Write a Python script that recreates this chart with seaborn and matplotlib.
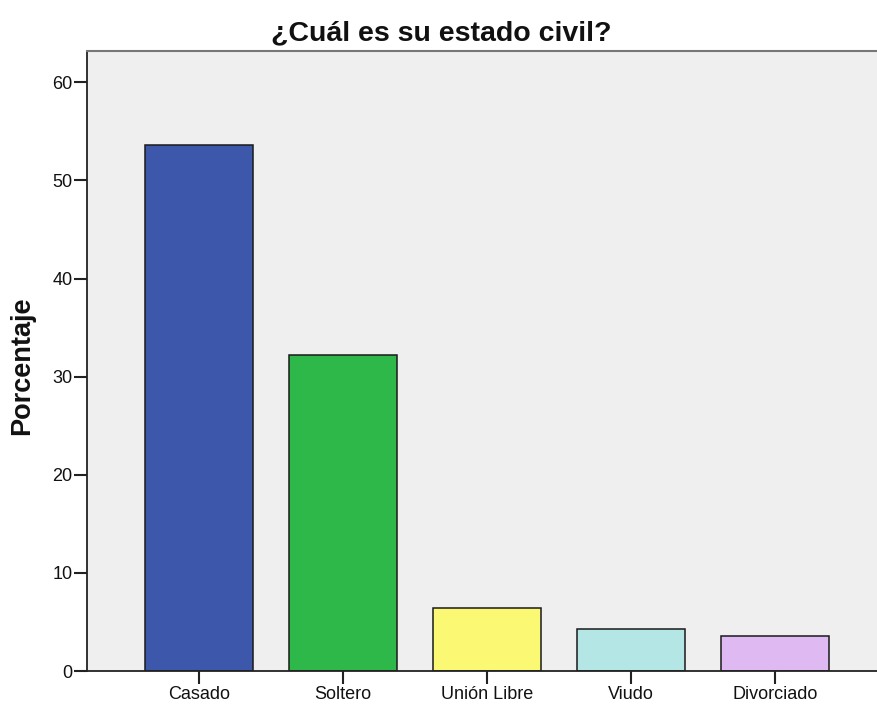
import matplotlib
matplotlib.use("Agg")
import matplotlib.pyplot as plt
import seaborn as sns
import pandas as pd

categories = ["Casado", "Soltero", "Unión Libre", "Viudo", "Divorciado"]
percentages = [53.6, 32.2, 6.4, 4.3, 3.6]
bar_colors = ["#3d57ab", "#2fb84a", "#fbf873", "#b4e6e6", "#dfbaf2"]
y_ticks = [0, 10, 20, 30, 40, 50, 60]

sns.set_theme(style="white")
plt.rcParams["font.family"] = ["Liberation Sans", "DejaVu Sans"]

df = pd.DataFrame({"estado": categories, "pct": percentages})

fig = plt.figure(figsize=(8.77, 7.04), dpi=100)
ax = fig.add_axes([87 / 877, 1 - 671 / 704, 1 - 87 / 877, (671 - 51) / 704])
ax.set_facecolor("#efefef")

sns.barplot(data=df, x="estado", y="pct", hue="estado", palette=bar_colors,
            order=categories, width=0.75, edgecolor="#1a1a1a", linewidth=1.1,
            legend=False, ax=ax, saturation=1)

ax.set_xlim(-0.778, 4.708)
ax.set_ylim(0, 63.2)
ax.set_yticks(y_ticks)
ax.set_yticklabels([str(t) for t in y_ticks], fontsize=13)
ax.set_xticks(range(len(categories)))
ax.set_xticklabels(categories, fontsize=13)

ax.set_xlabel("")
ax.set_ylabel("")
fig.text(22.5 / 877, 1 - 366 / 704, "Porcentaje", rotation=90,
         ha="center", va="center", fontsize=19.5, fontweight="bold", color="#111111")
fig.text(441 / 877, 1 - 40 / 704, "¿Cuál es su estado civil?", ha="center",
         va="baseline", fontsize=20.5, fontweight="bold", color="#111111")

for side in ["left", "bottom"]:
    ax.spines[side].set_color("#222222")
    ax.spines[side].set_linewidth(1.3)
ax.spines["top"].set_color("#777777")
ax.spines["top"].set_linewidth(1.5)
ax.spines["right"].set_visible(False)

ax.tick_params(axis="y", direction="out", length=9.5, width=1.5, color="#222222",
               pad=1, labelcolor="#111111", left=True)
ax.tick_params(axis="x", direction="out", length=9, width=1.5, color="#222222",
               pad=2, labelcolor="#111111", bottom=True)

fig.savefig("out.png", dpi=100)
